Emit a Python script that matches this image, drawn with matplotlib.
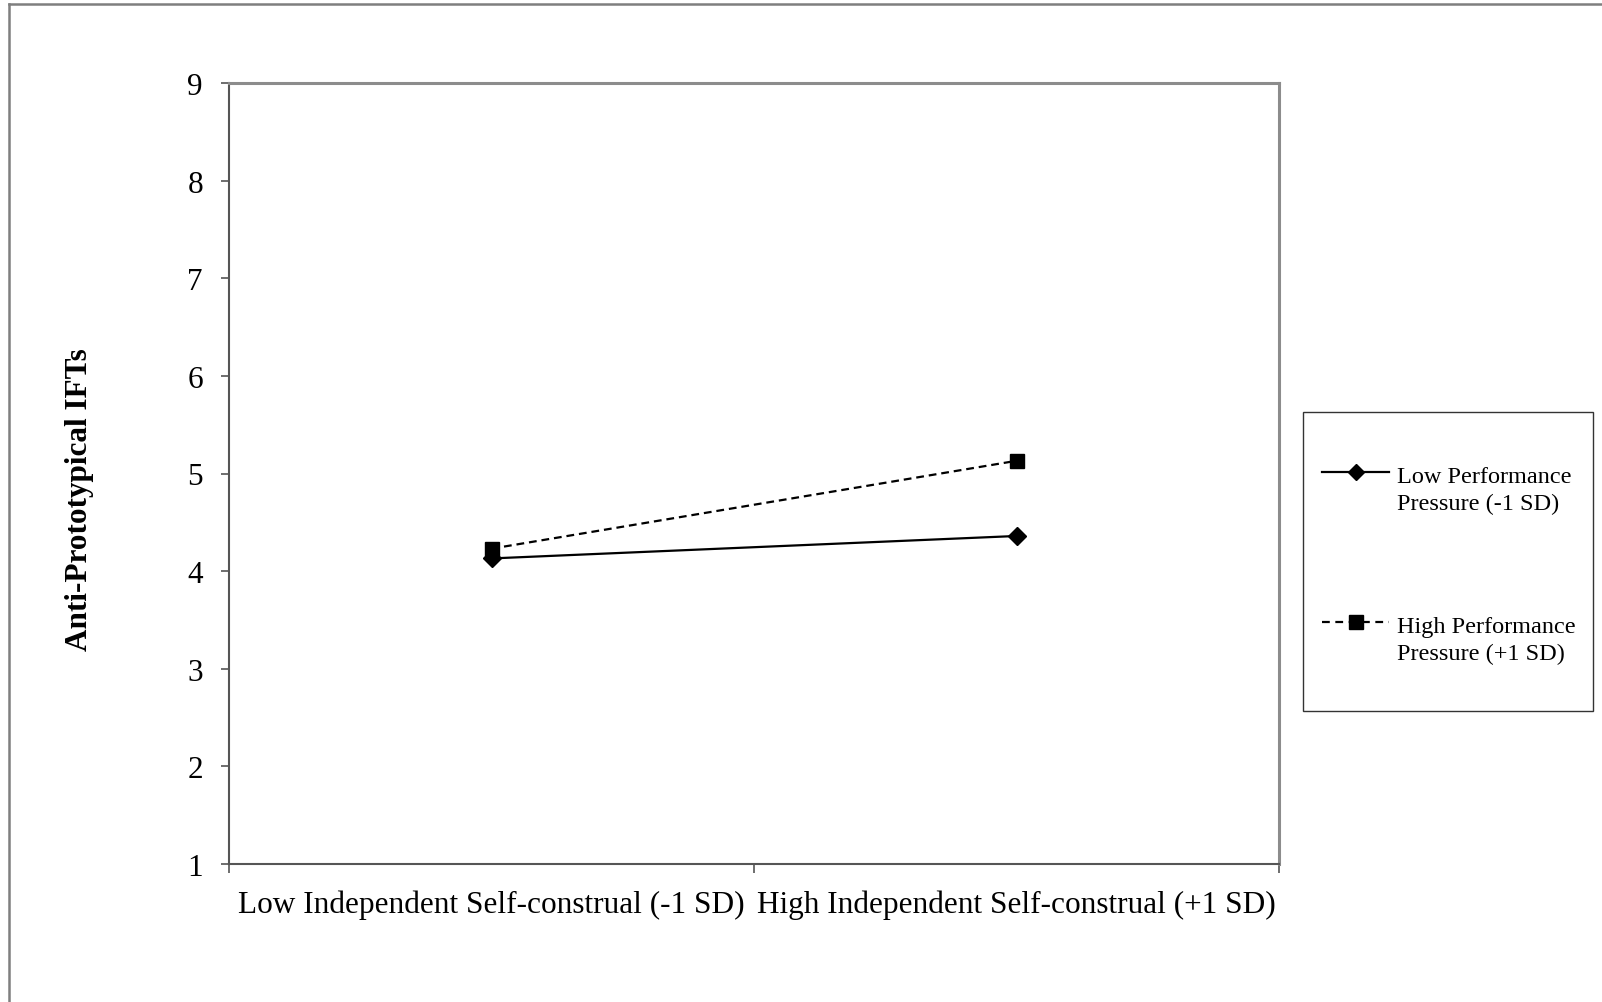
"""Interaction plot: anti-prototypical IFTs by self-construal and performance pressure."""

import matplotlib.pyplot as plt
from matplotlib.lines import Line2D
from matplotlib.patches import Rectangle

plt.rcParams["font.family"] = ["Liberation Serif", "DejaVu Serif"]

categories = [
    "Low Independent Self-construal (-1 SD)",
    "High Independent Self-construal (+1 SD)",
]
low_pressure = [4.13, 4.36]
high_pressure = [4.23, 5.13]
series_labels = [
    ("Low Performance", "Pressure (-1 SD)"),
    ("High Performance", "Pressure (+1 SD)"),
]
y_ticks = [1, 2, 3, 4, 5, 6, 7, 8, 9]
y_label = "Anti-Prototypical IFTs"

W, H = 1602, 1003
DARK = "#555555"
LIGHT = "#8c8c8c"


def fx(px):
    return px / W


def fy(py):
    return 1 - py / H


fig = plt.figure(figsize=(W / 100, H / 100), dpi=100)
ax = fig.add_axes([fx(229), fy(865), fx(1279) - fx(229), fy(84) - fy(865)])

x = list(range(len(categories)))
ax.plot(x, low_pressure, color="black", lw=1.6, marker="D", ms=9.5,
        mfc="black", mec="black")
ax.plot(x, high_pressure, color="black", lw=1.6, ls=(0, (3.5, 2.2)),
        marker="s", ms=10.5, mfc="black", mec="black")

ax.set_xlim(-0.5, len(categories) - 0.5)
ax.set_ylim(y_ticks[0], y_ticks[-1])
ax.set_yticks(y_ticks)
ax.set_xticks([i - 0.5 for i in range(len(categories) + 1)])
ax.set_xticklabels([])
ax.set_xticks(x, minor=True)
ax.set_xticklabels(categories, minor=True)

ax.tick_params(axis="y", direction="out", length=5.8, width=1.2,
               color=DARK, labelsize=22.5, pad=13)
ax.tick_params(axis="x", which="major", direction="out", length=6.5,
               width=1.2, color=DARK)
ax.tick_params(axis="x", which="minor", length=0, labelsize=22.5, pad=18)

for side in ("left", "bottom"):
    ax.spines[side].set_color(DARK)
    ax.spines[side].set_linewidth(1.5)
for side in ("top", "right"):
    ax.spines[side].set_color(LIGHT)
    ax.spines[side].set_linewidth(2.2)

fig.text(fx(80), fy(500), y_label, rotation=90, ha="center", va="center",
         fontsize=22.5, fontweight="bold")

# outer chart-area border (only left and top edges are visible)
fig.add_artist(Line2D([fx(9), fx(9)], [fy(5), 0], transform=fig.transFigure,
                      color="#7f7f7f", lw=1.8))
fig.add_artist(Line2D([fx(9), 1], [fy(5), fy(5)], transform=fig.transFigure,
                      color="#7f7f7f", lw=1.8))

# legend drawn by hand to keep the handle level with the first text line
fig.add_artist(Rectangle((fx(1303), fy(712)), fx(1593) - fx(1303),
                         fy(413) - fy(712), transform=fig.transFigure,
                         fill=False, edgecolor="#333333", lw=1.0))
handles = [
    dict(ls="-", marker="D", ms=8.5),
    dict(ls=(0, (3.5, 2.5)), marker="s", ms=10),
]
handle_y = [473, 623]
for style, hy, (line1, line2) in zip(handles, handle_y, series_labels):
    fig.add_artist(Line2D([fx(1322), fx(1389)], [fy(hy), fy(hy)],
                          transform=fig.transFigure, color="black", lw=1.6,
                          ls=style["ls"]))
    fig.add_artist(Line2D([fx(1355.5)], [fy(hy)], transform=fig.transFigure,
                          color="black", marker=style["marker"],
                          ms=style["ms"], ls="none"))
    fig.text(fx(1397), fy(hy + 10), line1, fontsize=17.5, va="baseline")
    fig.text(fx(1397), fy(hy + 37.5), line2, fontsize=17.5, va="baseline")

fig.savefig("out.png", dpi=100)
